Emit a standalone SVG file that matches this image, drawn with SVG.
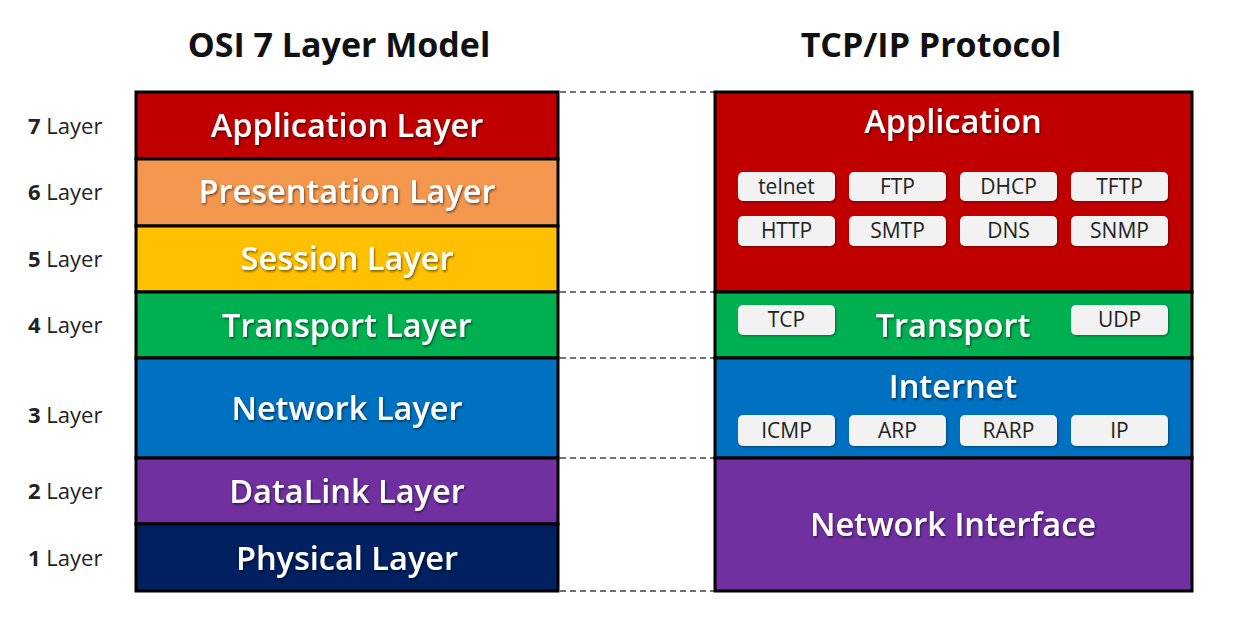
<svg xmlns="http://www.w3.org/2000/svg" width="1243" height="618" viewBox="0 0 1243 618">
<defs>
<filter id="sh" x="-10%" y="-20%" width="120%" height="140%"><feDropShadow dx="1" dy="1.5" stdDeviation="1" flood-color="#000" flood-opacity="0.55"/></filter>
<filter id="psh" x="-10%" y="-20%" width="120%" height="140%"><feDropShadow dx="1" dy="1" stdDeviation="0.8" flood-color="#000" flood-opacity="0.4"/></filter>
<style>
.title{font-family:"Open Sans","Liberation Sans",sans-serif;font-weight:700;font-size:34px;fill:#111;text-anchor:middle}
.num{font-family:"Open Sans","Liberation Sans",sans-serif;font-size:22px;fill:#222;text-anchor:start}
.num tspan.b{font-weight:700}
.lay{stroke:#000;stroke-width:3}
.lt{font-family:"Open Sans","Liberation Sans",sans-serif;font-weight:600;font-size:32.5px;fill:#fff;text-anchor:middle;filter:url(#sh)}
.pill{fill:#F2F2F2;filter:url(#psh)}
.pt{font-family:"Open Sans","Liberation Sans",sans-serif;font-size:21px;fill:#222;text-anchor:middle}
.dash{stroke:#444;stroke-width:1.5;stroke-dasharray:6 4;fill:none}
</style>
</defs>
<rect width="1243" height="618" fill="#fff"/>
<text class="title" x="339" y="57">OSI 7 Layer Model</text>
<text class="title" x="931" y="57">TCP/IP Protocol</text>

<g id="labels">
<text class="num" x="28" y="134"><tspan class="b">7</tspan> Layer</text>
<text class="num" x="28" y="200"><tspan class="b">6</tspan> Layer</text>
<text class="num" x="28" y="267"><tspan class="b">5</tspan> Layer</text>
<text class="num" x="28" y="333"><tspan class="b">4</tspan> Layer</text>
<text class="num" x="28" y="423"><tspan class="b">3</tspan> Layer</text>
<text class="num" x="28" y="499"><tspan class="b">2</tspan> Layer</text>
<text class="num" x="28" y="566"><tspan class="b">1</tspan> Layer</text>
</g>

<g id="osi-application"><rect class="lay" x="136" y="92" width="422" height="67" fill="#C00000"/><text class="lt" x="347" y="137">Application Layer</text></g>
<g id="osi-presentation"><rect class="lay" x="136" y="159" width="422" height="67" fill="#F4974E"/><text class="lt" x="347" y="203">Presentation Layer</text></g>
<g id="osi-session"><rect class="lay" x="136" y="226" width="422" height="66" fill="#FFC000"/><text class="lt" x="347" y="270">Session Layer</text></g>
<g id="osi-transport"><rect class="lay" x="136" y="292" width="422" height="66" fill="#00B050"/><text class="lt" x="347" y="337">Transport Layer</text></g>
<g id="osi-network"><rect class="lay" x="136" y="358" width="422" height="100" fill="#0070C0"/><text class="lt" x="347" y="420">Network Layer</text></g>
<g id="osi-datalink"><rect class="lay" x="136" y="458" width="422" height="66" fill="#7030A0"/><text class="lt" x="347" y="503">DataLink Layer</text></g>
<g id="osi-physical"><rect class="lay" x="136" y="524" width="422" height="67" fill="#002060"/><text class="lt" x="347" y="570">Physical Layer</text></g>

<g id="connectors">
<line class="dash" x1="560" y1="92" x2="714" y2="92"/>
<line class="dash" x1="560" y1="292" x2="714" y2="292"/>
<line class="dash" x1="560" y1="358" x2="714" y2="358"/>
<line class="dash" x1="560" y1="458" x2="714" y2="458"/>
<line class="dash" x1="560" y1="591" x2="714" y2="591"/>
</g>

<g id="tcp-application">
<rect class="lay" x="715" y="92" width="477" height="200" fill="#C00000"/>
<text class="lt" x="953" y="133">Application</text>
<rect class="pill" x="738" y="172" width="97" height="29" rx="5"/><text class="pt" x="786.5" y="194">telnet</text>
<rect class="pill" x="849" y="172" width="97" height="29" rx="5"/><text class="pt" x="897.5" y="194">FTP</text>
<rect class="pill" x="960" y="172" width="97" height="29" rx="5"/><text class="pt" x="1008.5" y="194">DHCP</text>
<rect class="pill" x="1071" y="172" width="97" height="29" rx="5"/><text class="pt" x="1119.5" y="194">TFTP</text>
<rect class="pill" x="738" y="216" width="97" height="30" rx="5"/><text class="pt" x="786.5" y="238">HTTP</text>
<rect class="pill" x="849" y="216" width="97" height="30" rx="5"/><text class="pt" x="897.5" y="238">SMTP</text>
<rect class="pill" x="960" y="216" width="97" height="30" rx="5"/><text class="pt" x="1008.5" y="238">DNS</text>
<rect class="pill" x="1071" y="216" width="97" height="30" rx="5"/><text class="pt" x="1119.5" y="238">SNMP</text>
</g>

<g id="tcp-transport">
<rect class="lay" x="715" y="292" width="477" height="66" fill="#00B050"/>
<text class="lt" x="953" y="337">Transport</text>
<rect class="pill" x="738" y="305" width="97" height="30" rx="5"/><text class="pt" x="786.5" y="327">TCP</text>
<rect class="pill" x="1071" y="305" width="97" height="30" rx="5"/><text class="pt" x="1119.5" y="327">UDP</text>
</g>

<g id="tcp-internet">
<rect class="lay" x="715" y="358" width="477" height="100" fill="#0070C0"/>
<text class="lt" x="953" y="398">Internet</text>
<rect class="pill" x="738" y="415" width="97" height="31" rx="5"/><text class="pt" x="786.5" y="438">ICMP</text>
<rect class="pill" x="849" y="415" width="97" height="31" rx="5"/><text class="pt" x="897.5" y="438">ARP</text>
<rect class="pill" x="960" y="415" width="97" height="31" rx="5"/><text class="pt" x="1008.5" y="438">RARP</text>
<rect class="pill" x="1071" y="415" width="97" height="31" rx="5"/><text class="pt" x="1119.5" y="438">IP</text>
</g>

<g id="tcp-network-interface">
<rect class="lay" x="715" y="458" width="477" height="133" fill="#7030A0"/>
<text class="lt" x="953" y="536">Network Interface</text>
</g>
</svg>
